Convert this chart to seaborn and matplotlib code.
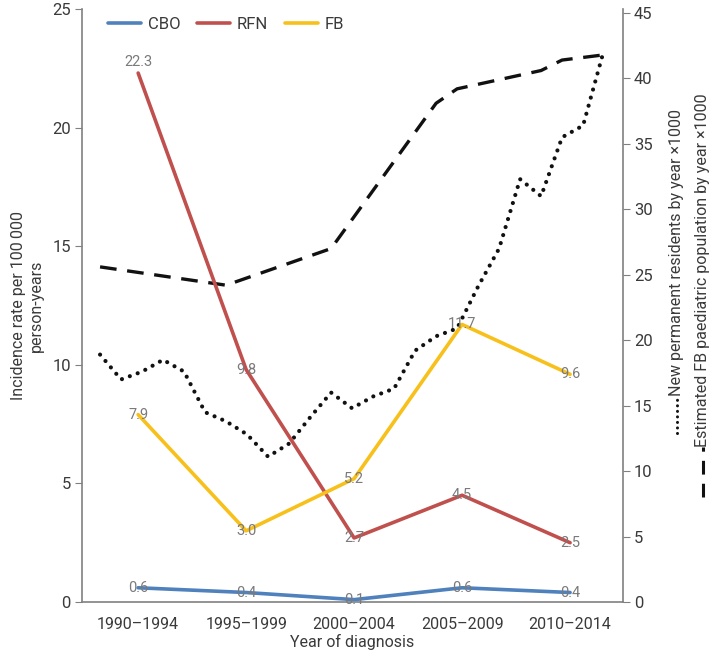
import numpy as np
import pandas as pd
import matplotlib
matplotlib.use("Agg")
import matplotlib.pyplot as plt
from matplotlib.lines import Line2D
import seaborn as sns

# Data
periods = ["1990\u20131994", "1995\u20131999", "2000\u20132004", "2005\u20132009", "2010\u20132014"]
cbo = [0.6, 0.4, 0.1, 0.6, 0.4]
rfn = [22.3, 9.8, 2.7, 4.5, 2.5]
fb = [7.9, 3.0, 5.2, 11.7, 9.6]

years = list(range(1990, 2015))
new_residents = [18.9, 17.0, 17.6, 18.5, 17.6, 14.5, 13.8, 12.8, 11.1, 12.1,
                 14.1, 16.0, 14.8, 15.7, 16.3, 19.2, 20.3, 20.9, 24.1, 27.0,
                 32.3, 31.0, 35.5, 36.4, 42.2]

fb_pop_years = [1990, 1996, 2001, 2006, 2007, 2011, 2012, 2014]
fb_pop = [25.6, 24.2, 27.0, 38.1, 39.2, 40.6, 41.4, 41.8]

colors = {"CBO": "#4f81bd", "RFN": "#c0504d", "FB": "#f8c01b"}
grey = "#808080"
txt = "#3a3a3a"

sns.set_style("white")
plt.rcParams["font.family"] = ["Roboto", "DejaVu Sans"]

inc = pd.DataFrame({
    "pos": list(range(len(periods))) * 3,
    "rate": cbo + rfn + fb,
    "group": ["CBO"] * 5 + ["RFN"] * 5 + ["FB"] * 5,
})

fig = plt.figure(figsize=(7.12, 6.55), dpi=100)
ax = fig.add_axes([82 / 712, 53 / 655, 541 / 712, 593 / 655])
ax2 = ax.twinx()
ax3 = ax2.twiny()

# right axis series (yearly)
sns.lineplot(x=years, y=new_residents, ax=ax3, color="#111111", lw=3.0,
             linestyle=(0, (0.01, 2.0)), dash_capstyle="round")
sns.lineplot(x=fb_pop_years, y=fb_pop, ax=ax3, color="#111111", lw=2.4,
             linestyle=(0, (5.0, 3.2)))
ax3.set_xlim(1989.14, 2014.9)
ax3.set_xticks([])
ax3.set_xlabel("")

# incidence lines
ax.set_zorder(ax3.get_zorder() + 1)
ax.patch.set_visible(False)
sns.lineplot(data=inc, x="pos", y="rate", hue="group", palette=colors,
             ax=ax, lw=2.6, legend=False)

for series in [cbo, rfn, fb]:
    for i, v in enumerate(series):
        dy = 0.45 if v > 20 else 0
        ax.text(i, v + dy, f"{v:.1f}", ha="center", va="center",
                fontsize=10.5, color="#7a7a7a")

ax.set_xlim(-0.52, 4.49)
ax.set_ylim(0, 25)
ax.set_yticks([0, 5, 10, 15, 20, 25])
ax.set_xticks(range(len(periods)))
ax.set_xticklabels(periods)
ax2.set_ylim(0, 45.3)
ax2.set_yticks([0, 5, 10, 15, 20, 25, 30, 35, 40, 45])

for a in [ax, ax2, ax3]:
    for s in a.spines.values():
        s.set_visible(False)
ax.spines["left"].set_visible(True)
ax.spines["bottom"].set_visible(True)
ax2.spines["right"].set_visible(True)
for a, side in [(ax, "left"), (ax, "bottom"), (ax2, "right")]:
    a.spines[side].set_color(grey)
    a.spines[side].set_linewidth(1.2)

ax.tick_params(axis="y", which="both", left=True, length=5, color=grey,
               labelsize=12, labelcolor=txt, pad=3)
ax.tick_params(axis="x", bottom=False, labelsize=11.5, labelcolor=txt, pad=7)
ax2.tick_params(axis="y", right=True, length=5, color=grey,
                labelsize=12, labelcolor=txt, pad=3)

ax.set_xlabel("Year of diagnosis", fontsize=11.5, color=txt, labelpad=2)
ax.set_ylabel("Incidence rate per 100\u2009000\nperson-years", fontsize=11.5,
              color=txt, labelpad=6)
ax2.set_ylabel("")

handles = [Line2D([], [], color=colors[k], lw=2.6) for k in ["CBO", "RFN", "FB"]]
ax.legend(handles, ["CBO", "RFN", "FB"], loc="upper left", ncol=3,
          frameon=False, fontsize=12, bbox_to_anchor=(0.02, 1.012),
          handlelength=2.0, columnspacing=1.0, handletextpad=0.4,
          labelcolor=txt)

# right-side series titles with line samples
fig.text(677 / 712, 1 - 252 / 655, "New permanent residents by year \u00d71000",
         rotation=90, ha="center", va="center", fontsize=11.5, color=txt)
fig.text(703 / 712, 1 - 270 / 655, "Estimated FB paediatric population by year \u00d71000",
         rotation=90, ha="center", va="center", fontsize=11.5, color=txt)
fig.add_artist(Line2D([677 / 712, 677 / 712], [1 - 433 / 655, 1 - 396 / 655],
                      transform=fig.transFigure, color="#111111", lw=2.2,
                      linestyle=(0, (0.01, 1.8)), dash_capstyle="round"))
fig.add_artist(Line2D([703 / 712, 703 / 712], [1 - 497 / 655, 1 - 447 / 655],
                      transform=fig.transFigure, color="#111111", lw=2.2,
                      linestyle=(0, (4.5, 3.0))))

fig.savefig("out.png", dpi=100)
